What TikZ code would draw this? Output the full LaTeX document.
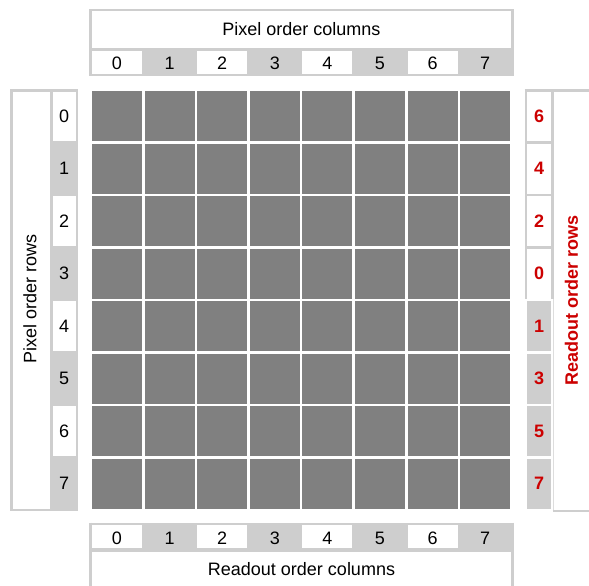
\documentclass[tikz,border=0pt]{standalone}
\usepackage{fontspec}
\setmainfont{Liberation Sans}
\usetikzlibrary{positioning}
\definecolor{pixelgray}{RGB}{128,128,128}
\definecolor{framegray}{RGB}{206,206,206}
\definecolor{readred}{RGB}{204,0,0}
\tikzset{
  frameline/.style={draw=framegray, line width=2.5pt},
  thinframe/.style={draw=framegray!70, line width=0.8pt},
  numlabel/.style={font=\fontsize{18}{21}\selectfont, inner sep=0pt},
  readlabel/.style={font=\fontsize{18}{21}\selectfont\bfseries, text=readred, inner sep=0pt},
}

\begin{document}
\begin{tikzpicture}[x=1pt, y=-1pt]
  \useasboundingbox (0,0) rectangle (589,586);
  % pixel array
  \foreach \c in {0,...,7}
    \foreach \r in {0,...,7}
      \fill[pixelgray] (92+52.6*\c, 91+52.5*\r) rectangle ++(50,50);
  % top header: pixel order columns
  \fill[framegray] (89,48) rectangle (513.5,76.5);
  \foreach \c in {0,2,4,6}
    \fill[white] (92+52.6*\c, 51) rectangle ++(50,23.7);
  \draw[frameline] (90.25,10.25) rectangle (512.25,75.25);
  \draw[frameline] (89,49.25) -- (513.5,49.25);
  \node[numlabel] (toptitle) at (301.5,29.5) {Pixel order columns};
  \foreach \c in {0,...,7}
    \node[numlabel] (topnum\c) at (117+52.6*\c, 63.5) {\c};
  % left side: pixel order rows
  \fill[framegray] (50,89) rectangle (78,511);
  \foreach \r in {0,2,4,6}
    \fill[white] (52.5, 91+52.5*\r) rectangle ++(23.5,50);
  \draw[frameline] (11.25,90.25) rectangle (76.75,509.75);
  \draw[frameline] (51.25,89) -- (51.25,511);
  \node[numlabel, rotate=90] (lefttitle) at (30,299) {Pixel order rows};
  \foreach \r in {0,...,7}
    \node[numlabel] (leftnum\r) at (64.25, 116+52.5*\r) {\r};
  % right side: readout order rows
  \fill[framegray] (524.5,89) rectangle (553.5,298.5);
  \foreach \r in {0,...,3}
    \fill[white] (527, 91+52.5*\r) rectangle ++(24,50);
  \foreach \r in {4,...,7}
    \fill[framegray] (527, 91+52.5*\r) rectangle ++(24,50);
  \draw[frameline] (524.5,90.25) -- (595,90.25);
  \draw[thinframe] (553.2,298.5) -- (553.2,510);
  \draw[frameline] (552.5,511) -- (595,511);
  \node[readlabel, rotate=90] (righttitle) at (571.5,300) {Readout order rows};
  \foreach \n [count=\r from 0] in {6,4,2,0,1,3,5,7}
    \node[readlabel] (rightnum\r) at (539, 116+52.5*\r) {\n};
  % bottom footer: readout order columns
  \fill[framegray] (89,522.5) rectangle (513.5,551.5);
  \foreach \c in {0,2,4,6}
    \fill[white] (92+52.6*\c, 524.7) rectangle ++(50,23.6);
  \draw[frameline] (89,523.75) -- (513.5,523.75);
  \draw[frameline] (90.25,522.5) -- (90.25,595);
  \draw[frameline] (512.25,522.5) -- (512.25,595);
  \draw[frameline] (89,550.25) -- (513.5,550.25);
  \node[numlabel] (bottitle) at (301.5,569.5) {Readout order columns};
  \foreach \c in {0,...,7}
    \node[numlabel] (botnum\c) at (117+52.6*\c, 538) {\c};
\end{tikzpicture}
\end{document}
